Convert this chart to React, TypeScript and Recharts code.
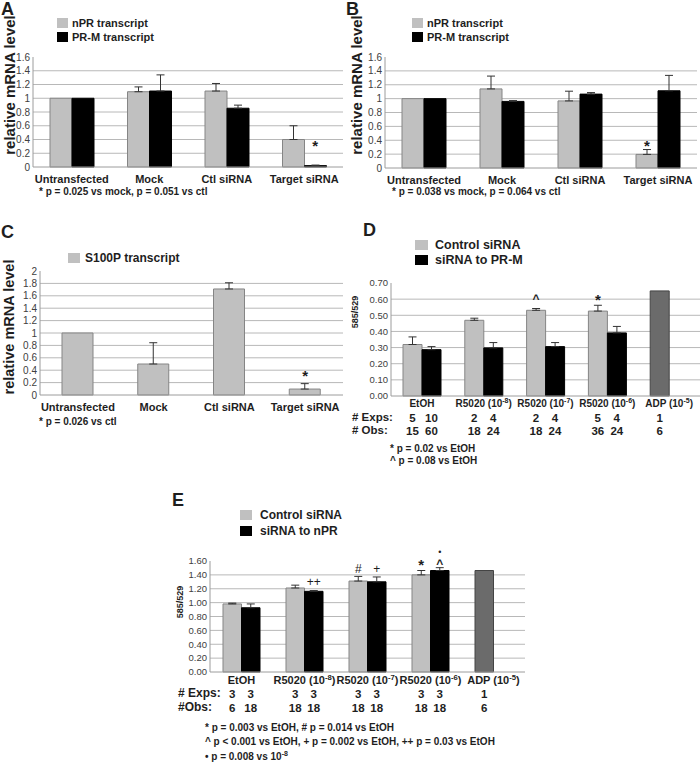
import React from 'react';
import {
  BarChart,
  Bar,
  XAxis,
  YAxis,
  CartesianGrid,
  ErrorBar,
  ReferenceDot,
  Legend,
  Cell
} from 'recharts';

const FONT = '"Liberation Sans", Arial, Helvetica, sans-serif';
const GRAY = '#c0c0c0';
const GRAY_EDGE = '#858585';
const BLACK = '#000000';
const ADP_GRAY = '#6b6b6b';
const GRID = '#b8b8b8';
const AXIS = '#9c9c9c';
const INK = '#1e1e1e';

// A, B, C: relative mRNA level
const transfections = ['Untransfected', 'Mock', 'Ctl siRNA', 'Target siRNA'];
const mrnaTicks = [0, 0.2, 0.4, 0.6, 0.8, 1, 1.2, 1.4, 1.6];
const s100pTicks = [0, 0.2, 0.4, 0.6, 0.8, 1, 1.2, 1.4, 1.6, 1.8, 2];

const nprA = [1, 1.095, 1.105, 0.4];
const nprErrA = [null, 0.07, 0.11, 0.2];
const prmA = [1, 1.105, 0.855, 0.02];
const prmErrA = [null, 0.235, 0.045, 0.008];
const marksA = [['Target siRNA', 'b', 0.36, '*']];

const nprB = [1, 1.14, 0.967, 0.196];
const nprErrB = [null, 0.185, 0.14, 0.07];
const prmB = [1, 0.96, 1.065, 1.113];
const prmErrB = [null, 0.012, 0.022, 0.222];
const marksB = [['Target siRNA', 'a', 0.37, '*']];

const s100pC = [1, 0.5, 1.71, 0.096];
const s100pErrC = [null, 0.343, 0.1, 0.087];
const marksC = [['Target siRNA', 'a', 0.36, '*']];

// D, E: 585/529 ratio
const treatments = ['EtOH', 'R5020 (10-8)', 'R5020 (10-7)', 'R5020 (10-6)', 'ADP (10-5)'];

const ratioTicksD = [0, 0.1, 0.2, 0.3, 0.4, 0.5, 0.6, 0.7];
const controlD = [0.319, 0.469, 0.531, 0.526, 0.651];
const controlErrD = [0.047, 0.013, 0.011, 0.036, null];
const prmD = [0.287, 0.298, 0.306, 0.391, null];
const prmErrD = [0.019, 0.033, 0.025, 0.04, null];
const expsD = [[5, 10], [2, 4], [2, 4], [5, 4], [1]];
const obsD = [[15, 60], [18, 24], [18, 24], [36, 24], [6]];
const marksD = [
  ['R5020 (10-7)', 'a', 0.615, '^'],
  ['R5020 (10-6)', 'a', 0.615, '*']
];

const ratioTicksE = [0, 0.2, 0.4, 0.6, 0.8, 1, 1.2, 1.4, 1.6];
const controlE = [0.981, 1.211, 1.311, 1.4, 1.463];
const controlErrE = [0.012, 0.041, 0.067, 0.063, null];
const nprE = [0.926, 1.163, 1.3, 1.463, null];
const nprErrE = [0.055, 0.011, 0.07, 0.041, null];
const expsE = [[3, 3], [3, 3], [3, 3], [3, 3], [1]];
const obsE = [[6, 18], [18, 18], [18, 18], [18, 18], [6]];
const marksE = [
  ['R5020 (10-8)', 'b', 1.296, '++'],
  ['R5020 (10-7)', 'a', 1.49, '#'],
  ['R5020 (10-7)', 'b', 1.49, '+'],
  ['R5020 (10-6)', 'a', 1.585, '*'],
  ['R5020 (10-6)', 'b', 1.59, '^'],
  ['R5020 (10-6)', 'b', 1.73, '•']
];

const toRows = (cats: string[], a: any[], aErr: any[], b?: any[], bErr?: any[]) =>
  cats.map((name, i) => ({
    name,
    a: a[i],
    aErr: aErr[i] == null ? null : [0, aErr[i]],
    b: b ? b[i] : null,
    bErr: bErr && bErr[i] != null ? [0, bErr[i]] : null
  }));

const markLift: Record<string, number> = { '*': 0.55, '^': 0.5, '#': 0.36, '+': 0.33, '++': 0.33, '•': 0.3 };

const MarkText = ({ cx, cy, sym }: any) => {
  const bold = sym === '*' || sym === '^';
  const size = sym === '*' ? 15 : sym === '•' ? 9 : 12;
  return (
    <text x={cx} y={cy + size * (markLift[sym] ?? 0.35)} textAnchor="middle"
      fontFamily={FONT} fontWeight={bold ? 700 : 400} fontSize={size} fill={INK}>
      {sym}
    </text>
  );
};

const plainTick = (dy: number) => (t: any) => (
  <text x={t.x} y={t.y + dy} textAnchor="middle" fontFamily={FONT} fontWeight={700} fontSize={11} fill={INK}>
    {t.payload.value}
  </text>
);

const doseTick = (exps: number[][], obs: number[][], bar: number, rows: number[], size: number) => (t: any) => {
  const label: string = t.payload.value;
  const i = treatments.indexOf(label);
  const m = label.match(/^(.*\()10(-\d)\)$/);
  const at = (j: number) => t.x + (j === 0 ? -bar / 2 : bar / 2);
  const txt = { fontFamily: FONT, fontWeight: 700, fill: INK, textAnchor: 'middle' as const };
  return (
    <g>
      <text x={t.x} y={t.y + rows[0]} fontSize={size} {...txt}>
        {m ? (
          <>
            {m[1]}10
            <tspan dy={-4} fontSize={size * 0.7}>{m[2]}</tspan>
            <tspan dy={4}>)</tspan>
          </>
        ) : label}
      </text>
      {(exps[i] || []).map((v, j) => (
        <text key={'e' + j} x={at(j)} y={t.y + rows[1]} fontSize={11.5} {...txt}>{v}</text>
      ))}
      {(obs[i] || []).map((v, j) => (
        <text key={'o' + j} x={at(j)} y={t.y + rows[2]} fontSize={11.5} {...txt}>{v}</text>
      ))}
    </g>
  );
};

type SeriesDef = { key: 'a' | 'b'; name: string; fill: string; edge: string };

const Panel = (p: {
  left: number; top: number; width: number; height: number;
  mTop: number; mRight: number; yWidth: number; xHeight: number;
  ticks: number[]; digits: number | null; tickFont: number;
  rows: any[]; series: SeriesDef[]; barSize: number; marks: any[];
  tick: (t: any) => React.ReactNode;
  legend: { left: number; top: number; font: number; sq: number[]; gap: number; rowH: number };
}) => {
  const max = p.ticks[p.ticks.length - 1];
  const grid = p.ticks.slice(1, -1);
  const shift = (key: string) => (p.series.length === 1 ? 0 : key === 'a' ? -p.barSize / 2 : p.barSize / 2);
  const order = p.series.map((s) => s.key);
  const colors: Record<string, string> = {};
  p.series.forEach((s) => (colors[s.key] = s.fill));
  const lg = p.legend;

  return (
    <div style={{ position: 'absolute', left: p.left, top: p.top }}>
      <BarChart width={p.width} height={p.height} data={p.rows} barGap={0}
        margin={{ top: p.mTop, right: p.mRight, left: 0, bottom: 0 }}>
        <CartesianGrid vertical={false} horizontalValues={grid} stroke={GRID} />
        <XAxis dataKey="name" height={p.xHeight} interval={0} tickSize={0} tickMargin={0}
          tickLine={false} axisLine={{ stroke: AXIS }} tick={p.tick} />
        <YAxis width={p.yWidth} domain={[0, max]} ticks={p.ticks} interval={0}
          tickSize={0} tickMargin={3} tickLine={false} axisLine={{ stroke: AXIS }}
          tick={{ fontSize: p.tickFont, fill: '#404040', fontFamily: FONT }}
          tickFormatter={(v: number) => (p.digits == null ? String(v) : Number(v).toFixed(p.digits))} />
        <Legend layout="vertical" align="center" verticalAlign="top"
          wrapperStyle={{ left: lg.left, top: lg.top, width: 'auto' }}
          content={(props: any) => {
            const items = [...(props.payload || [])].sort(
              (x: any, y: any) => order.indexOf(x.dataKey) - order.indexOf(y.dataKey)
            );
            return (
              <div style={{ fontFamily: FONT }}>
                {items.map((it: any) => (
                  <div key={it.dataKey} style={{ display: 'flex', alignItems: 'center', height: lg.rowH }}>
                    <span style={{ display: 'inline-block', width: lg.sq[0], height: lg.sq[1], background: colors[it.dataKey], marginRight: lg.gap }} />
                    <span style={{ fontWeight: 700, fontSize: lg.font, color: INK, whiteSpace: 'nowrap' }}>{it.value}</span>
                  </div>
                ))}
              </div>
            );
          }} />
        {p.series.map((s) => (
          <Bar key={s.key} dataKey={s.key} name={s.name} fill={s.fill} stroke={s.edge}
            strokeWidth={1} barSize={p.barSize} isAnimationActive={false}>
            {s.key === 'a' && p.rows.map((r) => (
              <Cell key={r.name}
                fill={r.name.startsWith('ADP') ? ADP_GRAY : s.fill}
                stroke={r.name.startsWith('ADP') ? '#444444' : s.edge} />
            ))}
            <ErrorBar dataKey={s.key + 'Err'} width={4} stroke="#333333" strokeWidth={1} direction="y" />
          </Bar>
        ))}
        {p.marks.map(([cat, key, level, sym]: any, i: number) => (
          <ReferenceDot key={i} x={cat} y={level} ifOverflow="visible"
            shape={(d: any) => <MarkText cx={d.cx + shift(key)} cy={d.cy} sym={sym} />} />
        ))}
      </BarChart>
    </div>
  );
};

const Txt = ({ x, y, size = 10, children }: any) => (
  <div style={{ position: 'absolute', left: x, top: y, fontSize: size, fontWeight: 700, lineHeight: `${size}px`, whiteSpace: 'nowrap', color: INK }}>
    {children}
  </div>
);

const VTitle = ({ cx, cy, size, children }: any) => (
  <div style={{
    position: 'absolute', left: cx - 100, top: cy - 10, width: 200, height: 20, lineHeight: '20px',
    textAlign: 'center', transform: 'rotate(-90deg)', fontWeight: 700, fontSize: size, color: INK, whiteSpace: 'nowrap'
  }}>
    {children}
  </div>
);

const pairAB: SeriesDef[] = [
  { key: 'a', name: 'nPR transcript', fill: GRAY, edge: GRAY_EDGE },
  { key: 'b', name: 'PR-M transcript', fill: BLACK, edge: BLACK }
];

export default function App() {
  return (
    <div style={{ position: 'absolute', left: 0, top: 0, width: 700, height: 762, background: '#fff', fontFamily: FONT, overflow: 'hidden' }}>
      <Panel left={0} top={0} width={350} height={200} mTop={29} mRight={7} yWidth={33} xHeight={33}
        ticks={mrnaTicks} digits={null} tickFont={10}
        rows={toRows(transfections, nprA, nprErrA, prmA, prmErrA)} series={pairAB}
        barSize={22} marks={marksA} tick={plainTick(15.5)}
        legend={{ left: 57, top: 15.5, font: 11, sq: [11, 10], gap: 4, rowH: 14 }} />

      <Panel left={350} top={0} width={350} height={200} mTop={29} mRight={3} yWidth={35} xHeight={32}
        ticks={mrnaTicks} digits={null} tickFont={10}
        rows={toRows(transfections, nprB, nprErrB, prmB, prmErrB)} series={pairAB}
        barSize={22} marks={marksB} tick={plainTick(15.5)}
        legend={{ left: 62, top: 15.5, font: 11, sq: [11, 10], gap: 4, rowH: 14 }} />

      <Panel left={0} top={200} width={350} height={220} mTop={57} mRight={7} yWidth={40} xHeight={25}
        ticks={s100pTicks} digits={null} tickFont={10}
        rows={toRows(transfections, s100pC, s100pErrC)}
        series={[{ key: 'a', name: 'S100P transcript', fill: GRAY, edge: GRAY_EDGE }]}
        barSize={31} marks={marksC} tick={plainTick(15.5)}
        legend={{ left: 68, top: 51, font: 12, sq: [12, 10], gap: 5, rowH: 14 }} />

      <Panel left={350} top={200} width={350} height={245} mTop={53} mRight={0} yWidth={41} xHeight={49}
        ticks={ratioTicksD} digits={2} tickFont={9.5}
        rows={toRows(treatments, controlD, controlErrD, prmD, prmErrD)}
        series={[
          { key: 'a', name: 'Control siRNA', fill: GRAY, edge: GRAY_EDGE },
          { key: 'b', name: 'siRNA to PR-M', fill: BLACK, edge: BLACK }
        ]}
        barSize={19} marks={marksD} tick={doseTick(expsD, obsD, 19, [11, 26, 39], 10)}
        legend={{ left: 65, top: 37.5, font: 12.5, sq: [13, 10], gap: 7, rowH: 15 }} />

      <Panel left={150} top={450} width={400} height={280} mTop={79} mRight={25} yWidth={60} xHeight={58}
        ticks={ratioTicksE} digits={2} tickFont={9.5}
        rows={toRows(treatments, controlE, controlErrE, nprE, nprErrE)}
        series={[
          { key: 'a', name: 'Control siRNA', fill: GRAY, edge: GRAY_EDGE },
          { key: 'b', name: 'siRNA to nPR', fill: BLACK, edge: BLACK }
        ]}
        barSize={18.5} marks={marksE} tick={doseTick(expsE, obsE, 18.5, [12, 26, 40], 11)}
        legend={{ left: 90, top: 57, font: 12, sq: [12, 10], gap: 8, rowH: 16 }} />

      <Txt x={1} y={0} size={18}>A</Txt>
      <Txt x={346} y={0} size={18}>B</Txt>
      <Txt x={1} y={223} size={18}>C</Txt>
      <Txt x={363} y={221} size={18}>D</Txt>
      <Txt x={172} y={491} size={18}>E</Txt>

      <VTitle cx={10} cy={85} size={15}>relative mRNA level</VTitle>
      <VTitle cx={357} cy={85} size={15}>relative mRNA level</VTitle>
      <VTitle cx={9} cy={327} size={14.5}>relative mRNA level</VTitle>
      <VTitle cx={355} cy={312} size={9}>585/529</VTitle>
      <VTitle cx={180} cy={602} size={9}>585/529</VTitle>

      <Txt x={39} y={186.5}>* p = 0.025 vs mock, p = 0.051 vs ctl</Txt>
      <Txt x={392} y={186.5}>* p = 0.038 vs mock, p = 0.064 vs ctl</Txt>
      <Txt x={39} y={416.5}>* p = 0.026 vs ctl</Txt>

      <Txt x={352} y={411.7} size={11.5}># Exps:</Txt>
      <Txt x={352} y={424.7} size={11.5}># Obs:</Txt>
      <Txt x={390} y={443.5}>* p = 0.02 vs EtOH</Txt>
      <Txt x={390} y={455.5}>^ p = 0.08 vs EtOH</Txt>

      <Txt x={178} y={687.4} size={12}># Exps:</Txt>
      <Txt x={178} y={701.4} size={12}>#Obs:</Txt>
      <Txt x={205} y={722.5}>* p = 0.003 vs EtOH, # p = 0.014 vs EtOH</Txt>
      <Txt x={205} y={736.5}>^ p &lt; 0.001 vs EtOH, + p = 0.002 vs EtOH, ++ p = 0.03 vs EtOH</Txt>
      <Txt x={205} y={748.5}>• p = 0.008 vs 10<sup style={{ fontSize: 7 }}>-8</sup></Txt>
    </div>
  );
}
